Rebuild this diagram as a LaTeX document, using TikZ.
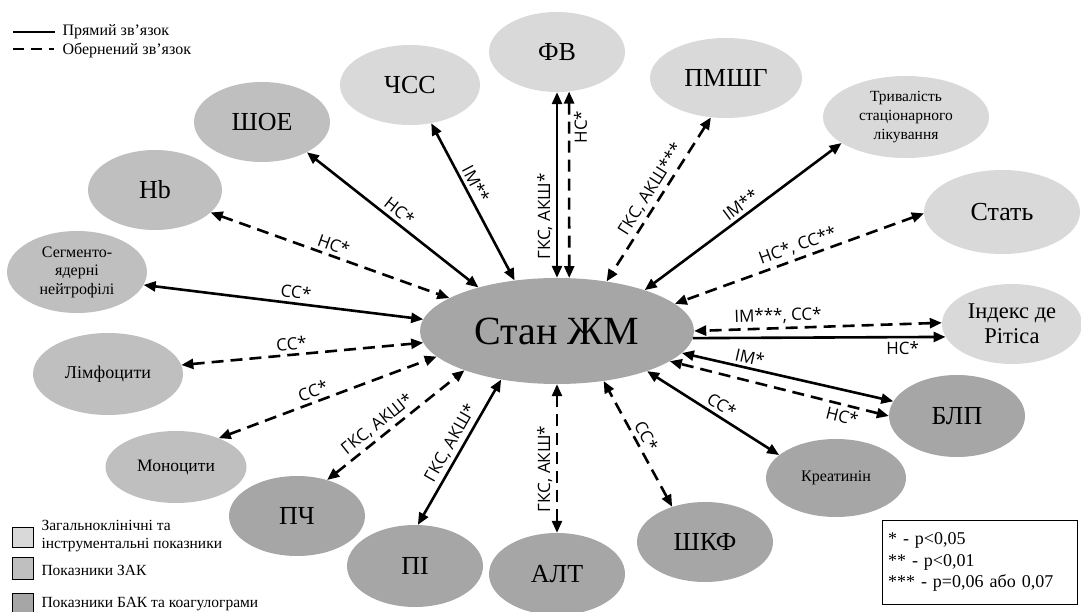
\documentclass[tikz,border=0pt]{standalone}
\usepackage{fontspec}
\setmainfont{Liberation Serif}
\newfontfamily\lblfont{Open Sans}
\usetikzlibrary{shapes.geometric,arrows.meta}

\definecolor{lightg}{HTML}{D9D9D9}
\definecolor{midg}{HTML}{BFBFBF}
\definecolor{darkg}{HTML}{A6A6A6}

\begin{document}
\begin{tikzpicture}[x=1pt, y=-1pt, >={Triangle[length=12pt,width=10pt]},
    ind/.style={ellipse, inner sep=0pt, minimum width=136pt, minimum height=80pt, align=center, font=\fontsize{26}{28}\selectfont},
    direct/.style={line width=2.6pt},
    inverse/.style={line width=2.6pt, dash pattern=on 12pt off 7pt},
    lbl/.style={font=\lblfont\fontsize{17}{17}\selectfont, inner sep=3.5pt}]
\useasboundingbox (0,0) rectangle (1081,612);

% legend of connectors
\draw[direct] (13,32) -- (55,32);
\draw[line width=2.6pt, dash pattern=on 11pt off 7pt] (13,49) -- (54,49);
\node[anchor=west, font=\fontsize{16}{17}\selectfont] (lgdir) at (59,32) {Прямий зв’язок};
\node[anchor=west, font=\fontsize{16}{17}\selectfont] (lginv) at (59,50) {Обернений зв’язок};

% central node
\node[ind, fill=darkg, minimum width=274pt, minimum height=106pt, font=\fontsize{40}{44}\selectfont] (ZhM) at (557,331) {Стан ЖМ};

% general clinical and instrumental
\node[ind, fill=lightg] (FV) at (557,52) {ФВ};
\node[ind, fill=lightg, minimum width=140pt] (CHSS) at (410,85) {ЧСС};
\node[ind, fill=lightg, minimum width=152pt] (PMSHG) at (726,78) {ПМШГ};
\node[ind, fill=lightg, minimum width=166pt, minimum height=82pt, font=\fontsize{15.5}{19}\selectfont] (TRYV) at (906,117) {Тривалість\\стаціонарного\\лікування};
\node[ind, fill=lightg, minimum width=156pt, minimum height=84pt] (STAT) at (1002,212) {Стать};
\node[ind, fill=lightg, minimum width=140pt, font=\fontsize{22.5}{25}\selectfont] (RIT) at (1012,324) {Індекс де\\Рітіса};

% blood count
\node[ind, fill=midg] (SHOE) at (262,122) {ШОЕ};
\node[ind, fill=midg, minimum width=134pt] (HB) at (155,190) {Hb};
\node[ind, fill=midg, minimum width=140pt, minimum height=82pt, font=\fontsize{16}{18.5}\selectfont] (SEGM) at (77,272) {Сегменто-\\ядерні\\нейтрофілі};
\node[ind, fill=midg, minimum width=150pt, minimum height=82pt, font=\fontsize{18}{20}\selectfont] (LIMF) at (108,374) {Лімфоцити};
\node[ind, fill=midg, minimum width=141pt, minimum height=72pt, font=\fontsize{17.5}{20}\selectfont] (MONO) at (176,467) {Моноцити};

% biochemistry and coagulogram
\node[ind, fill=darkg] (PCH) at (297,516) {ПЧ};
\node[ind, fill=darkg, minimum height=82pt] (PI) at (415,566) {ПІ};
\node[ind, fill=darkg, minimum height=82pt] (ALT) at (557,574) {АЛТ};
\node[ind, fill=darkg] (SHKF) at (705,542) {ШКФ};
\node[ind, fill=darkg, minimum width=140pt, minimum height=78pt, font=\fontsize{16}{18}\selectfont] (KREAT) at (836,478) {Креатинін};
\node[ind, fill=darkg, minimum height=82pt] (BLP) at (957,416) {БЛП};

% connectors
\draw[direct, <->] (SHOE.-34.5) -- (ZhM.151.6) node[lbl, sloped, pos=.5, above] {НС*};
\draw[inverse, <->] (HB.-22) -- (ZhM.163.3) node[lbl, sloped, pos=.5, above] {НС*};
\draw[direct, <->] (SEGM.-11.2) -- (ZhM.175.5) node[lbl, sloped, pos=.54, above] {СС*};
\draw[inverse, <->] (LIMF.7.9) -- (ZhM.185.8) node[lbl, sloped, pos=.46, above] {СС*};
\draw[inverse, <->] (MONO.34.5) -- (ZhM.192.5) node[lbl, sloped, pos=.45, above] {СС*};
\draw[inverse, <->] (PCH.50.8) -- (ZhM.203.3) node[lbl, sloped, pos=.42, above] {ГКС, АКШ*};
\draw[direct, <->] (PI.86.1) -- (ZhM.221.4) node[lbl, sloped, pos=.52, above] {ГКС, АКШ*};
\draw[inverse, <->] (ALT.90) -- (ZhM.270) node[lbl, rotate=90, pos=.43, above] {ГКС, АКШ*};
\draw[inverse, <->] (SHKF.133.3) -- (ZhM.-47.2) node[lbl, sloped, pos=.52, above] {СС*};
\draw[direct, <->] (KREAT.158.5) -- (ZhM.-24.8) node[lbl, sloped, pos=.48, above] {СС*};
\draw[direct, <->] (BLP.167) -- (ZhM.-10.8) node[lbl, sloped, pos=.69, above] {ІМ*};
\draw[inverse, <->] (BLP.180.8) -- (ZhM.-15.2) node[lbl, sloped, pos=.2, below] {НС*};
\draw[inverse, <->] (RIT.179.2) -- (ZhM.0.4) node[lbl, sloped, pos=.66, above] {ІМ***, СС*};
\draw[direct, ->] (ZhM.-3.4) -- (RIT.191.8) node[lbl, sloped, pos=.83, below] {НС*};
\draw[inverse, <->] (STAT.181.4) -- (ZhM.13.6) node[lbl, sloped, pos=.49, above] {НС*, СС**};
\draw[direct, <->] (TRYV.202.3) -- (ZhM.25.3) node[lbl, sloped, pos=.48, above] {ІМ**};
\draw[inverse, <->] (PMSHG.249) -- (ZhM.45) node[lbl, sloped, pos=.48, above] {ГКС, АКШ***};
\draw[direct, <->] (ZhM.90) -- (FV.270) node[lbl, rotate=90, pos=.33, above] {ГКС, АКШ*};
\draw[inverse, <->] (ZhM.77.2) -- (FV.-73.1) node[lbl, rotate=90, pos=.81, below] {НС*};
\draw[direct, <->] (CHSS.-61.2) -- (ZhM.130.3) node[lbl, sloped, pos=.42, above] {ІМ**};

% legend of groups
\node[draw, line width=.8pt, fill=lightg, minimum width=21pt, minimum height=20pt, inner sep=0pt] (sq1) at (22.5,537) {};
\node[draw, line width=.8pt, fill=midg, minimum width=21pt, minimum height=22pt, inner sep=0pt] (sq2) at (22.5,568) {};
\node[draw, line width=.8pt, fill=darkg, minimum width=21pt, minimum height=20pt, inner sep=0pt] (sq3) at (22.5,603) {};
\node[anchor=west, align=left, font=\fontsize{15.5}{18}\selectfont] (lg1) at (38,536) {Загальноклінічні та\\інструментальні показники};
\node[anchor=west, font=\fontsize{15.5}{18}\selectfont] (lg2) at (38,570) {Показники ЗАК};
\node[anchor=west, font=\fontsize{15.5}{18}\selectfont] (lg3) at (38,604) {Показники БАК та коагулограми};

% significance
\node[draw, line width=.8pt, minimum width=195pt, minimum height=84pt, text width=183pt, align=left, font=\fontsize{18}{21.5}\selectfont] (sig) at (979.5,562) {* - p<0,05\\{}** - p<0,01\\{}*** - p=0,06 або 0,07};
\end{tikzpicture}
\end{document}
